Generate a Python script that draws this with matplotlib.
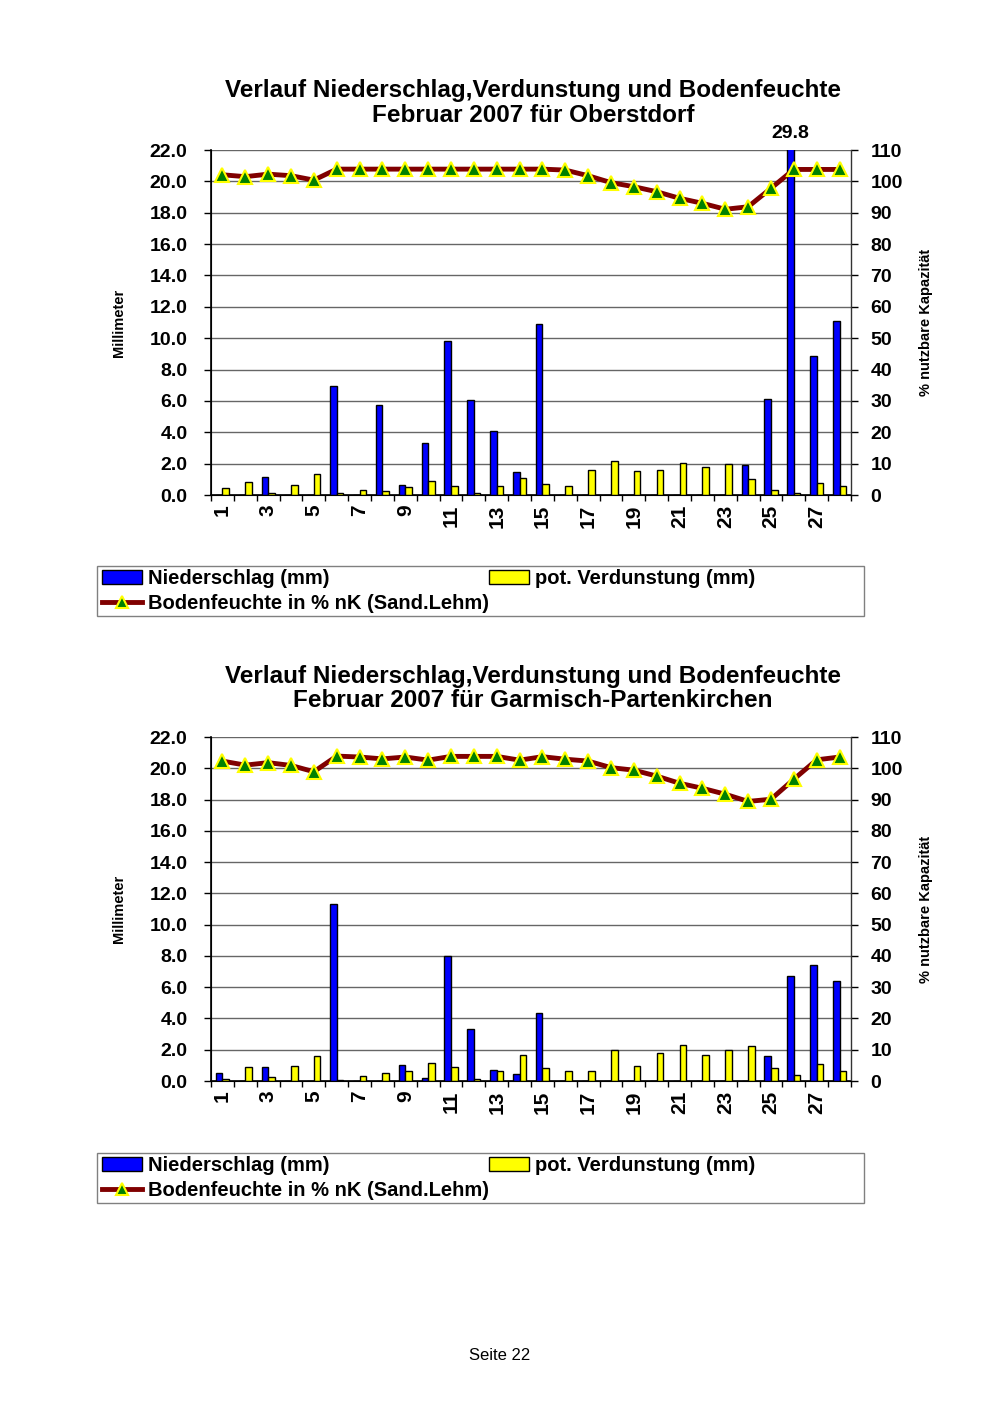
import matplotlib
matplotlib.use("Agg")
import matplotlib.pyplot as plt
from matplotlib.lines import Line2D
from matplotlib.patches import Patch, Rectangle
import numpy as np

plt.rcParams['font.family'] = ['Liberation Sans', 'DejaVu Sans']

days = list(range(1, 29))
xtick_labels = [str(d) for d in range(1, 29, 2)]

# Oberstdorf
obe_nied = [0.0, 0.0, 1.13, 0.0, 0.0, 6.97, 0.0, 5.74, 0.66, 3.32, 9.8, 6.06, 4.06, 1.45,
            10.92, 0.0, 0.0, 0.0, 0.0, 0.0, 0.0, 0.0, 0.0, 1.91, 6.12, 29.8, 8.86, 11.07]
obe_verd = [0.43, 0.85, 0.15, 0.64, 1.32, 0.1, 0.3, 0.23, 0.53, 0.87, 0.57, 0.15, 0.57, 1.06,
            0.72, 0.55, 1.62, 2.15, 1.51, 1.57, 2.02, 1.81, 1.98, 1.0, 0.32, 0.1, 0.74, 0.57]
obe_boden = [102.1, 101.5, 102.3, 101.8, 100.4, 103.9, 103.9, 103.9, 103.9, 103.9, 103.9, 103.9,
             103.9, 103.9, 103.9, 103.6, 101.8, 99.6, 98.3, 96.7, 94.6, 93.0, 91.1, 91.9, 97.8,
             103.8, 103.8, 103.8]

# Garmisch-Partenkirchen
gap_nied = [0.49, 0.0, 0.89, 0.0, 0.0, 11.29, 0.0, 0.0, 1.0, 0.21, 7.97, 3.3, 0.68, 0.45,
            4.34, 0.0, 0.0, 0.0, 0.0, 0.0, 0.0, 0.0, 0.0, 0.0, 1.6, 6.71, 7.39, 6.41]
gap_verd = [0.13, 0.89, 0.26, 0.96, 1.6, 0.05, 0.32, 0.49, 0.62, 1.17, 0.89, 0.13, 0.64, 1.64,
            0.85, 0.66, 0.66, 2.0, 0.98, 1.79, 2.32, 1.64, 1.98, 2.26, 0.85, 0.36, 1.11, 0.66]
gap_boden = [102.3, 101.0, 101.8, 100.9, 98.9, 103.9, 103.6, 103.0, 103.6, 102.6, 103.8, 103.8,
             103.8, 102.6, 103.7, 102.9, 102.3, 100.2, 99.4, 97.5, 95.2, 93.6, 91.7, 89.4, 90.1,
             96.5, 102.7, 103.6]

title_line1 = "Verlauf Niederschlag,Verdunstung und Bodenfeuchte"
stations = ["Oberstdorf", "Garmisch-Partenkirchen"]
label_nied = "Niederschlag (mm)"
label_verd = "pot. Verdunstung (mm)"
label_boden = "Bodenfeuchte in % nK (Sand.Lehm)"

W, H = 1000, 1415
fig = plt.figure(figsize=(W / 100, H / 100), dpi=100)
fig.patch.set_facecolor("white")

BLUE = "#0000ff"
YELLOW = "#ffff00"
RED = "#800000"
GREEN = "#008000"
TICKFS = 14
LEGFS = 14.5
TITLEFS = 17.5


def px(x0, y0, x1, y1):
    return [x0 / W, 1 - y1 / H, (x1 - x0) / W, (y1 - y0) / H]


def draw(rect, nied, verd, boden, station, title_y, legend_y):
    ax = fig.add_axes(rect)
    ax2 = ax.twinx()
    x = np.array(days, dtype=float)
    bw = 0.29
    ax.bar(x - bw / 2, nied, width=bw, color=BLUE, edgecolor="black", linewidth=1.0, zorder=3)
    ax.bar(x + bw / 2, verd, width=bw, color=YELLOW, edgecolor="black", linewidth=1.0, zorder=3)
    ax.set_xlim(0.5, 28.5)
    ax.set_ylim(0, 22)
    ax.set_yticks(np.arange(0, 22.1, 2))
    ax.set_yticklabels([f"{v:.1f}" for v in np.arange(0, 22.1, 2)],
                       fontsize=TICKFS, fontweight="bold")
    ax.yaxis.grid(True, color="#666666", linewidth=1.0, zorder=0)
    ax.set_axisbelow(True)
    ax.set_xticks(np.arange(0.5, 28.6, 1))
    ax.set_xticklabels([])
    ax.set_xticks(np.arange(1, 29, 2), minor=True)
    ax.set_xticklabels(xtick_labels, minor=True, rotation=90, fontsize=15,
                       fontweight="bold")
    ax.tick_params(axis="x", which="major", length=4, width=1, direction="out")
    ax.tick_params(axis="x", which="minor", length=0, pad=7)
    ax.tick_params(axis="y", length=5, width=1, direction="out", pad=12)
    ax.set_ylabel("Millimeter", fontsize=10.5, fontweight="bold", labelpad=17)
    ax.spines["top"].set_visible(False)
    ax2.spines["top"].set_visible(False)
    ax.spines["left"].set_linewidth(1.2)
    ax.spines["bottom"].set_linewidth(1.2)
    ax2.spines["right"].set_linewidth(1.0)
    ax2.spines["right"].set_color("#333333")
    ax.spines["right"].set_visible(False)

    ax2.plot(x, boden, color=RED, linewidth=3.5, marker="^", markersize=10,
             markerfacecolor=GREEN, markeredgecolor=YELLOW, markeredgewidth=1.5, zorder=5,
             clip_on=False)
    ax2.set_ylim(0, 110)
    ax2.set_yticks(np.arange(0, 111, 10))
    ax2.set_yticklabels([str(v) for v in range(0, 111, 10)], fontsize=TICKFS,
                        fontweight="bold")
    ax2.tick_params(axis="y", length=5, width=1, direction="out", pad=9)
    ax2.set_ylabel("% nutzbare Kapazität", fontsize=10.5, fontweight="bold", labelpad=12)
    ax2.set_xlim(0.5, 28.5)

    for xi, v in zip(x, nied):
        if v > 22:
            ax.annotate(f"{v:.1f}", xy=(xi - bw / 2, 22), xytext=(0, 6),
                        textcoords="offset points", ha="center", va="bottom",
                        fontsize=TICKFS, fontweight="bold", annotation_clip=False)

    fig.text(0.533, 1 - title_y / H, title_line1, ha="center", va="center",
             fontsize=TITLEFS, fontweight="bold")
    fig.text(0.533, 1 - (title_y + 24) / H, f"Februar 2007 für {station}", ha="center",
             va="center", fontsize=TITLEFS, fontweight="bold")

    # legend frame
    fig.patches.append(Rectangle((97 / W, 1 - (legend_y + 50) / H), 767 / W, 50 / H,
                                 transform=fig.transFigure, facecolor="white",
                                 edgecolor="#808080", linewidth=1.0, zorder=0))
    h_nied = Patch(facecolor=BLUE, edgecolor="black", linewidth=1.0)
    h_verd = Patch(facecolor=YELLOW, edgecolor="black", linewidth=1.0)
    h_boden = Line2D([], [], color=RED, linewidth=3.5, marker="^", markersize=9,
                     markerfacecolor=GREEN, markeredgecolor=YELLOW, markeredgewidth=1.5)
    common = dict(loc="upper left", frameon=False, prop={"weight": "bold", "size": LEGFS},
                  handlelength=2.0, handleheight=0.7, handletextpad=0.3, borderpad=0,
                  labelspacing=0.3, borderaxespad=0)
    fig.legend([h_nied, h_boden], [label_nied, label_boden],
               bbox_to_anchor=(102 / W, 1 - (legend_y + 3) / H), **common)
    fig.legend([h_verd], [label_verd],
               bbox_to_anchor=(489 / W, 1 - (legend_y + 3) / H), **common)


draw(px(211, 150, 851, 495), obe_nied, obe_verd, obe_boden, stations[0], 91, 566)
draw(px(211, 737, 851, 1081), gap_nied, gap_verd, gap_boden, stations[1], 677, 1153)

fig.text(0.5, 1 - 1355 / H, "Seite 22", ha="center", va="center", fontsize=12)

fig.savefig("out.png", dpi=100, facecolor="white")
